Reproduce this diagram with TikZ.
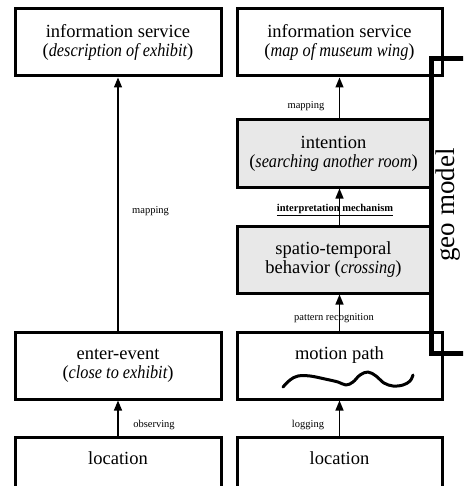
\documentclass[tikz,border=0pt]{standalone}
\usepackage{fontspec}
\setmainfont{Liberation Serif}
\usetikzlibrary{arrows.meta}
\definecolor{boxgray}{RGB}{232,232,232}
\newcommand\itx[1]{\scalebox{0.88}[1]{\itshape #1}}
\tikzset{
  box/.style={draw=black, line width=3pt, minimum height=67pt, align=center, inner sep=0pt,
     font=\fontsize{18.5}{19}\selectfont},
  lbox/.style={box, minimum width=206pt},
  rbox/.style={box, minimum width=205pt},
  gbox/.style={box, minimum width=193pt, fill=boxgray},
  arr/.style={line width=1.3pt, -{Triangle[width=8pt,length=10pt]}},
  lbl/.style={font=\fontsize{10.5}{11}\selectfont, inner sep=0pt},
}
\begin{document}
\begin{tikzpicture}[x=1pt,y=-1pt]
\useasboundingbox (0,0) rectangle (463,486);
\begin{scope}
\clip (0,0) rectangle (463,486);
% geo model bracket
\draw[line width=5pt] (470,59) -- (431.5,59) -- (431.5,353) -- (470,353);
\node[rotate=90, font=\fontsize{27}{29}\selectfont, inner sep=0pt] (geo) at (448,205) {geo model};
% left column
\node[lbox] (linfo) at (118,42.5) {information service\\(\itx{description of exhibit})};
\node[lbox] (enter) at (118,365.5) {enter-event\\(\itx{close to exhibit})};
\node[lbox] (lloc) at (118,470.5) {\raisebox{25pt}{location}};
% right column
\node[rbox] (rinfo) at (339.5,42.5) {information service\\(\itx{map of museum wing})};
\node[gbox] (intent) at (333.5,153.5) {intention\\(\itx{searching another room})};
\node[gbox] (spatio) at (333.5,259.5) {spatio-temporal\\behavior (\itx{crossing})};
\node[rbox] (motion) at (339.5,365.5) {\raisebox{24pt}{motion path}};
\node[rbox] (rloc) at (339.5,470.5) {\raisebox{25pt}{location}};
\end{scope}
% squiggle
\draw[line width=3pt, line cap=round, line join=round] plot[smooth, tension=0.6] coordinates {
 (283,387) (290,380) (298,376) (310,376) (325,379) (338,382) (346,385) (353,382)
 (360,375) (368,372) (376,376) (384,383) (393,386) (403,385) (410,381) (413,375)};
% arrows
\draw[arr] (enter.north) -- (linfo.south);
\draw[arr] (lloc.north) -- (enter.south);
\draw[arr] (rloc.north) -- (motion.south);
\draw[arr] (motion.north) -- (motion.north |- spatio.south);
\draw[arr] (motion.north |- spatio.north) -- (motion.north |- intent.south);
\draw[arr] (motion.north |- intent.north) -- (rinfo.south);
% labels
\node[lbl, anchor=west] (lmap) at (132,211) {mapping};
\node[lbl] (rmap) at (306,106) {mapping};
\node[lbl] (interp) at (335,210) {\textbf{\underline{interpretation mechanism}}};
\node[lbl] (patt) at (334,318) {pattern recognition};
\node[lbl] (obs) at (154,425) {observing};
\node[lbl] (log) at (308,425) {logging};
\end{tikzpicture}
\end{document}
